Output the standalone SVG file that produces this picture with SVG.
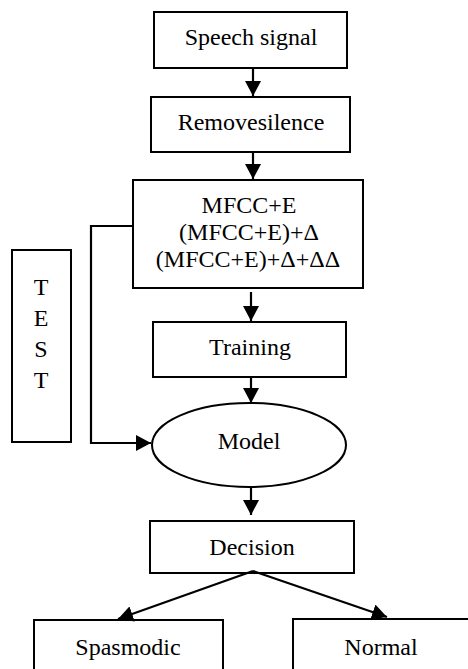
<svg xmlns="http://www.w3.org/2000/svg" width="468" height="669" viewBox="0 0 468 669">
<defs>
<style>
.b{fill:#fff;stroke:#000;stroke-width:2}
.t{font-family:"Liberation Serif","Times New Roman",serif;font-size:24px;fill:#000;text-anchor:middle}
.c{fill:none;stroke:#000;stroke-width:2.2}
</style>
<marker id="ah" markerUnits="userSpaceOnUse" markerWidth="16" markerHeight="16" refX="15" refY="8" orient="auto">
<path d="M0,0 L15,8 L0,16 z" fill="#000"/>
</marker>
</defs>
<rect width="468" height="669" fill="#fff"/>
<g id="speech"><rect class="b" x="154" y="12" width="193" height="56"/><text class="t" x="251" y="45">Speech signal</text></g>
<g id="remove"><rect class="b" x="151" y="97" width="199" height="55"/><text class="t" x="251" y="130">Removesilence</text></g>
<g id="mfcc"><rect class="b" x="133" y="180" width="230" height="108"/>
<text class="t" x="249" y="213">MFCC+E</text>
<text class="t" x="249" y="240">(MFCC+E)+Δ</text>
<text class="t" x="248" y="267">(MFCC+E)+Δ+ΔΔ</text></g>
<g id="test"><rect class="b" x="12" y="250" width="59" height="192"/>
<text class="t" x="41" y="295">T</text>
<text class="t" x="41" y="326">E</text>
<text class="t" x="41" y="357">S</text>
<text class="t" x="41" y="388">T</text></g>
<g id="training"><rect class="b" x="153" y="322" width="193" height="55"/><text class="t" x="250" y="355">Training</text></g>
<g id="model"><ellipse class="b" cx="249" cy="445" rx="97" ry="42"/><text class="t" x="249" y="449">Model</text></g>
<g id="decision"><rect class="b" x="150" y="521" width="204" height="52"/><text class="t" x="252" y="555">Decision</text></g>
<g id="spasmodic"><rect class="b" x="34" y="620" width="189" height="60"/><text class="t" x="128" y="655">Spasmodic</text></g>
<g id="normal"><rect class="b" x="293" y="619" width="190" height="60"/><text class="t" x="381" y="655">Normal</text></g>
<g id="connectors">
<line class="c" x1="253" y1="68" x2="253" y2="96" marker-end="url(#ah)"/>
<line class="c" x1="253" y1="152" x2="253" y2="179" marker-end="url(#ah)"/>
<line class="c" x1="251" y1="292" x2="251" y2="321" marker-end="url(#ah)"/>
<line class="c" x1="251" y1="377" x2="251" y2="403" marker-end="url(#ah)"/>
<line class="c" x1="251" y1="487" x2="251" y2="515" marker-end="url(#ah)"/>
<line class="c" x1="253" y1="571" x2="118" y2="619" marker-end="url(#ah)"/>
<line class="c" x1="253" y1="571" x2="387" y2="617" marker-end="url(#ah)"/>
<polyline class="c" points="133,226 91,226 91,443 151,443" marker-end="url(#ah)"/>
</g>
</svg>
